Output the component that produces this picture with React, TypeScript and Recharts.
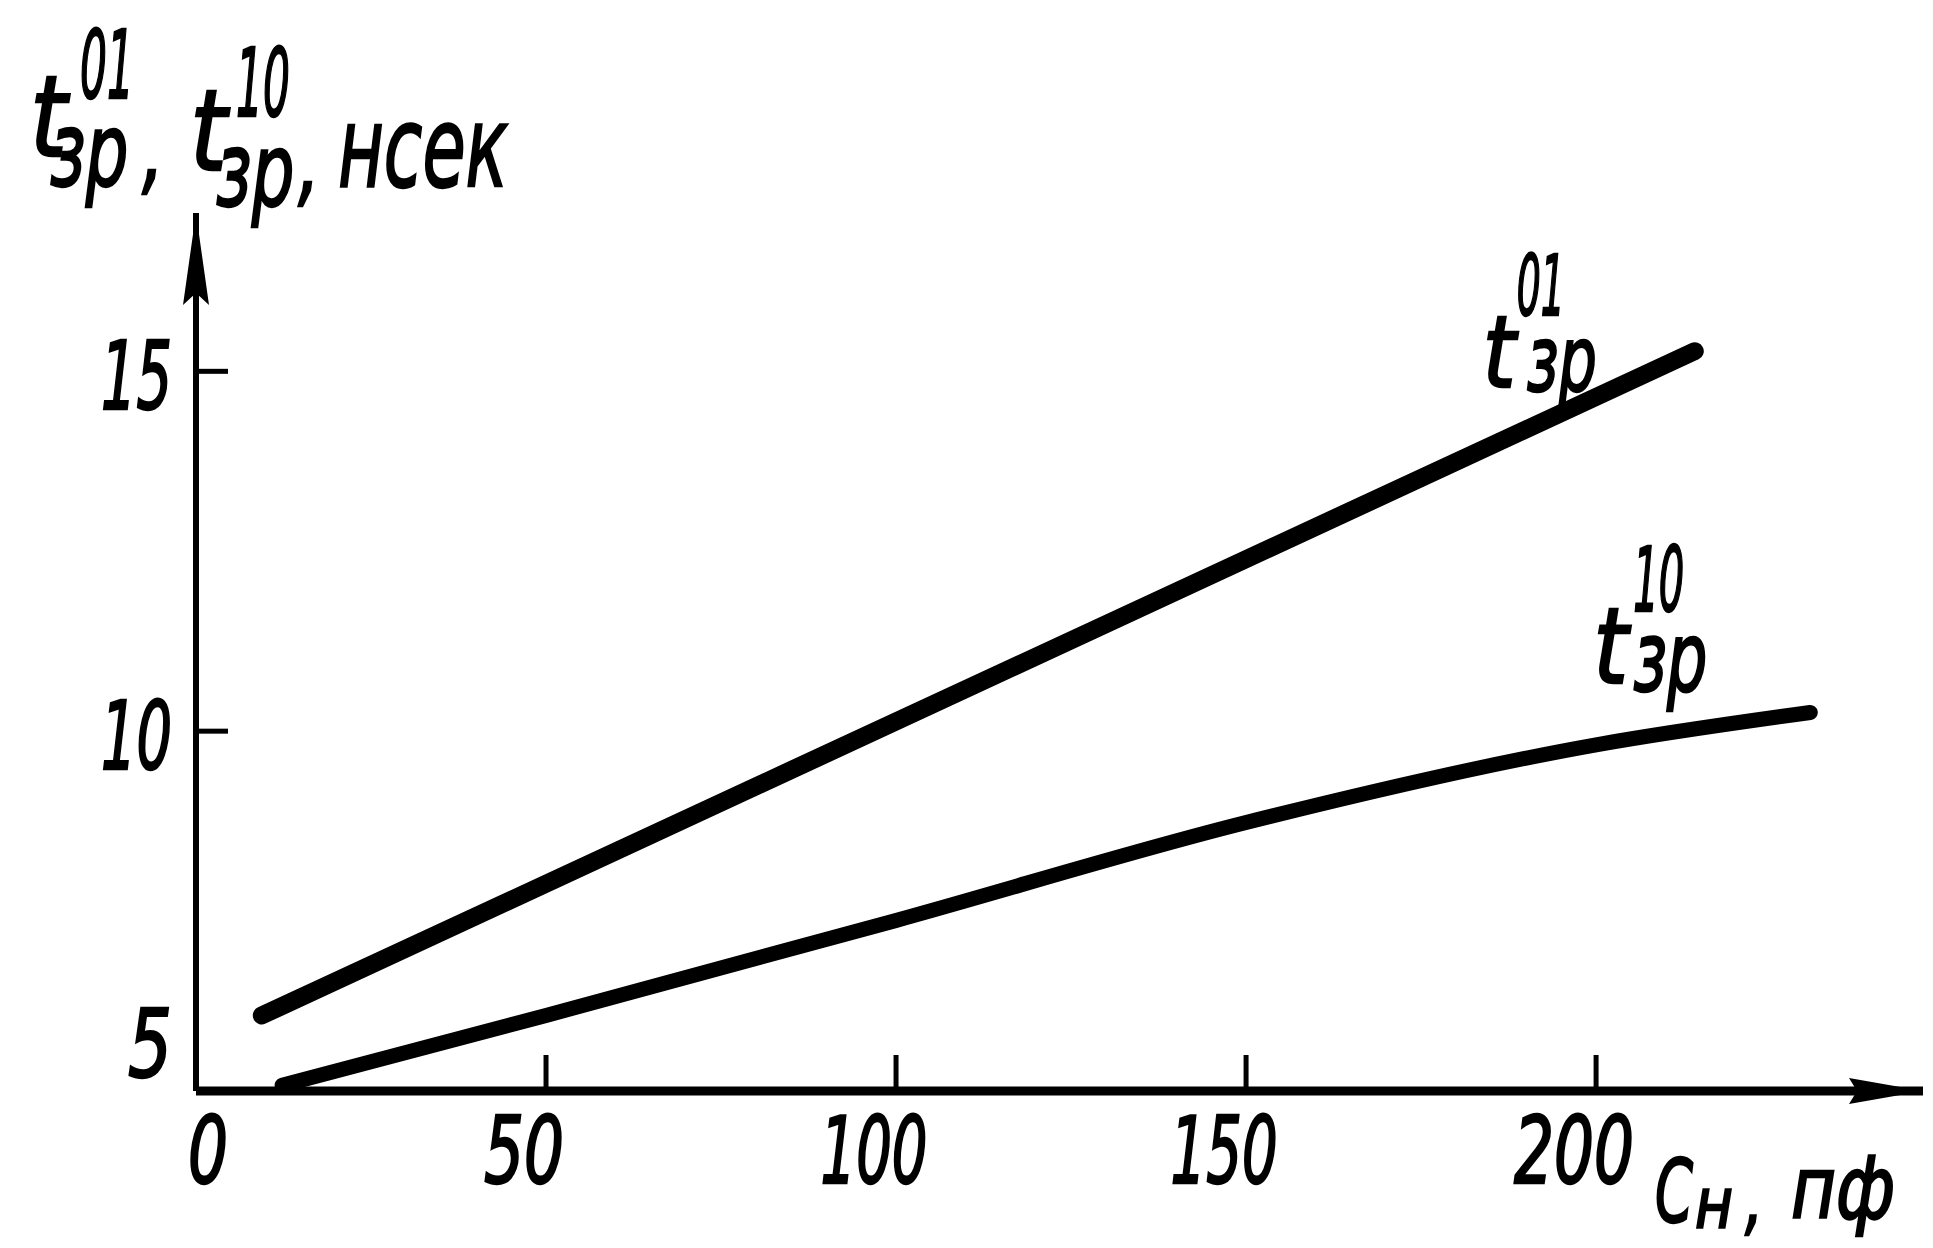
import React from 'react'
import { LineChart, Line, XAxis, YAxis, ReferenceDot } from 'recharts'

// load capacitance Cн, pF (x) and propagation delay tзр, ns (y)
const cap01 = [9.4, 214.1]
const delay01 = [6.05, 15.28]
const cap10 = [12.3, 50, 100, 150, 200, 230.6]
const delay10 = [5.08, 6.05, 7.37, 8.73, 9.81, 10.26]

const xTicks = [0, 50, 100, 150, 200]
const yTicks = [5, 10, 15]
const xMax = 246.7
const yMin = 5
const yMax = 17.2

const series01 = cap01.map((c, i) => ({ c, t: delay01[i] }))
const series10 = cap10.map((c, i) => ({ c, t: delay10[i] }))

const ink = '#000'
const drawFont = {
  fontFamily: "'DejaVu Sans', 'Liberation Sans', sans-serif",
  fontStyle: 'italic' as const,
  fill: ink,
  stroke: ink,
  strokeWidth: 2.4
}

// the drafting lettering is tall and narrow, so squeeze each piece to a set width
const Narrow = (props: any) => {
  const { x, y, size, w, anchor, children } = props
  return (
    <text
      x={x}
      y={y}
      fontSize={size}
      textLength={w}
      lengthAdjust="spacingAndGlyphs"
      textAnchor={anchor || 'start'}
      style={drawFont}
    >
      {children}
    </text>
  )
}

const digitsWidth = (s: string) => s.split('').reduce((w, ch) => w + (ch === '1' ? 27 : 40), 0)

const XTick = (props: any) => {
  const { x, y, payload } = props
  const v = payload.value
  const s = String(v)
  return (
    <g>
      {v !== 0 && <line x1={x} y1={y} x2={x} y2={y - 36} stroke={ink} strokeWidth={5} />}
      <Narrow x={x + (v === 0 ? 12 : -22)} y={y + 92} size={92} w={digitsWidth(s)} anchor="middle">
        {s}
      </Narrow>
    </g>
  )
}

const YTick = (props: any) => {
  const { x, y, payload } = props
  const v = payload.value
  const s = String(v)
  return (
    <g>
      {v !== yMin && <line x1={x} y1={y} x2={x + 32} y2={y} stroke={ink} strokeWidth={5} />}
      <Narrow x={x - 24} y={v === yMin ? y - 14 : y + 38} size={94} w={digitsWidth(s) + 4} anchor="end">
        {s}
      </Narrow>
    </g>
  )
}

// t with subscript "зр" and a superscript code, placed from the t baseline
const DelaySymbol = (props: any) => {
  const { x, y, code, size, sup, sub } = props
  return (
    <g>
      <Narrow x={x} y={y} size={size} w={size * 0.33}>t</Narrow>
      <Narrow x={x + sup[0]} y={y + sup[1]} size={size * 0.84} w={size * 0.48}>{code}</Narrow>
      <Narrow x={x + sub[0]} y={y + sub[1]} size={size * 0.9} w={size * 0.7}>зр</Narrow>
    </g>
  )
}

const renderYTitle = (props: any) => {
  const vb = props.viewBox
  const x0 = vb.x + vb.width - 166
  const y0 = vb.y - 57
  return (
    <g>
      <DelaySymbol x={x0} y={y0} code="01" size={112} sup={[50, -58]} sub={[20, 30]} />
      <Narrow x={x0 + 112} y={y0 + 26} size={100} w={22}>,</Narrow>
      <DelaySymbol x={x0 + 160} y={y0 + 14} code="10" size={112} sup={[46, -54]} sub={[26, 36]} />
      <Narrow x={x0 + 268} y={y0 + 38} size={100} w={22}>,</Narrow>
      <Narrow x={x0 + 308} y={y0 + 30} size={112} w={170}>нсек</Narrow>
    </g>
  )
}

const renderXTitle = (props: any) => {
  const vb = props.viewBox
  const x0 = vb.x + vb.width - 268
  const y0 = vb.y + 131
  return (
    <g>
      <Narrow x={x0} y={y0} size={88} w={38}>C</Narrow>
      <Narrow x={x0 + 40} y={y0 + 6} size={70} w={38}>н</Narrow>
      <Narrow x={x0 + 90} y={y0 + 4} size={80} w={18}>,</Narrow>
      <Narrow x={x0 + 136} y={y0 - 4} size={86} w={104}>пф</Narrow>
    </g>
  )
}

const endLabel = (code: string, dx: number, dy: number, size: number, sup: number[], sub: number[], count: number) =>
  (props: any) => {
    const { cx, cy, index } = props
    if (index !== count - 1) return <g key={index} />
    return (
      <g key={index}>
        <DelaySymbol x={cx + dx} y={cy + dy} code={code} size={size} sup={sup} sub={sub} />
      </g>
    )
  }

const XArrow = (props: any) => {
  const { cx, cy } = props
  return <polygon points={`${cx},${cy} ${cx - 74},${cy - 13} ${cx - 66},${cy} ${cx - 74},${cy + 13}`} fill={ink} />
}

const YArrow = (props: any) => {
  const { cx, cy } = props
  return <polygon points={`${cx},${cy} ${cx + 13},${cy + 92} ${cx},${cy + 80} ${cx - 13},${cy + 92}`} fill={ink} />
}

export default function App(): JSX.Element {
  return (
    <LineChart width={1917} height={1232} margin={{ top: 205, right: 2, bottom: 49, left: 88 }}>
      <XAxis
        type="number"
        dataKey="c"
        domain={[0, xMax]}
        ticks={xTicks}
        allowDataOverflow
        height={100}
        tickSize={0}
        tickMargin={0}
        tickLine={false}
        axisLine={{ stroke: ink, strokeWidth: 9 }}
        tick={(p: any) => <XTick {...p} />}
        label={renderXTitle}
      />
      <YAxis
        type="number"
        dataKey="t"
        domain={[yMin, yMax]}
        ticks={yTicks}
        allowDataOverflow
        width={100}
        tickSize={0}
        tickMargin={0}
        tickLine={false}
        axisLine={{ stroke: ink, strokeWidth: 6 }}
        tick={(p: any) => <YTick {...p} />}
        label={renderYTitle}
      />
      <Line
        data={series01}
        dataKey="t"
        type="linear"
        stroke={ink}
        strokeWidth={18}
        strokeLinecap="round"
        dot={endLabel('01', -212, 36, 100, [34, -72], [44, 4], series01.length)}
        activeDot={false}
        isAnimationActive={false}
      />
      <Line
        data={series10}
        dataKey="t"
        type="monotone"
        stroke={ink}
        strokeWidth={15}
        strokeLinecap="round"
        dot={endLabel('10', -217, -29, 106, [40, -72], [40, 8], series10.length)}
        activeDot={false}
        isAnimationActive={false}
      />
      <ReferenceDot x={xMax} y={yMin} shape={XArrow} ifOverflow="visible" />
      <ReferenceDot x={0} y={yMax} shape={YArrow} ifOverflow="visible" />
    </LineChart>
  )
}
